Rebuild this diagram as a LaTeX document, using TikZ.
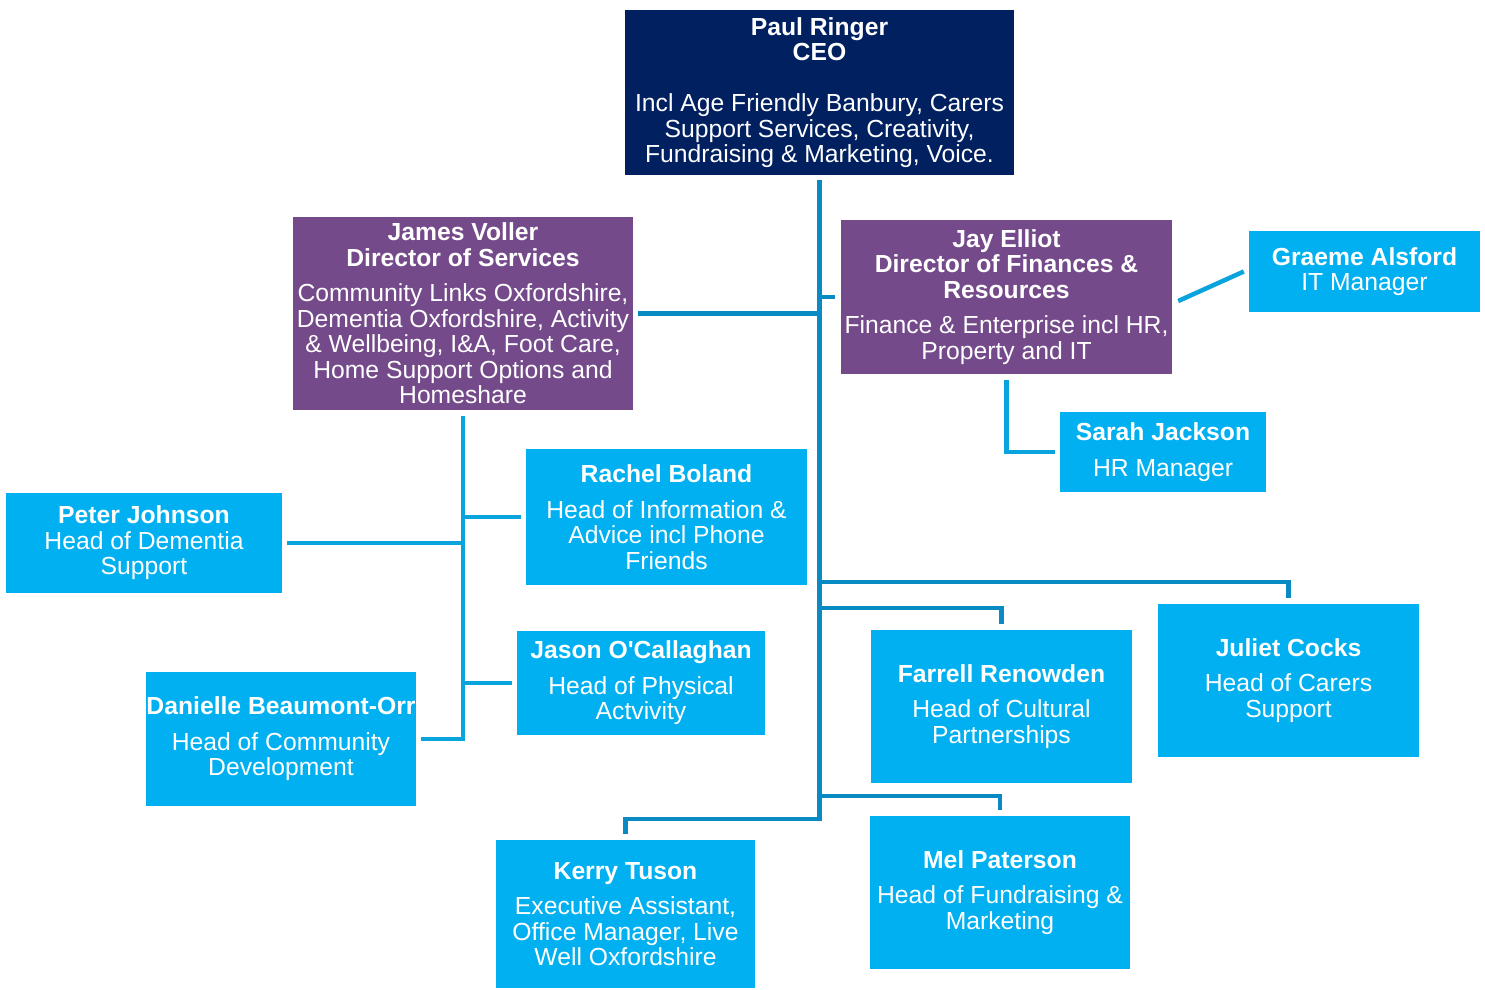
\documentclass[tikz,border=0pt]{standalone}
\usepackage{fontspec}
\setmainfont{Liberation Sans}
\definecolor{ceonavy}{HTML}{002060}
\definecolor{dirpurple}{HTML}{744A8A}
\definecolor{staffblue}{HTML}{00B0F0}
\definecolor{linkdark}{HTML}{0A8AC2}
\definecolor{linklight}{HTML}{09A3DE}
\begin{document}
\begin{tikzpicture}[x=1pt, y=-1pt,
  card/.style={rectangle, inner sep=0pt, text=white, align=center, font=\fontsize{24.7}{25.5}\selectfont},
  navybox/.style={card, fill=ceonavy},
  purplebox/.style={card, fill=dirpurple},
  bluebox/.style={card, fill=staffblue},
  link/.style={draw=linkdark, line width=4.5pt},
  sublink/.style={draw=linklight, line width=4.5pt}]
\useasboundingbox (0,0) rectangle (1485,989);
\node[navybox, minimum width=389, minimum height=165] (ceo) at (819.5, 92.5)
  {\textbf{Paul Ringer}\\\textbf{CEO}\\[25.5pt]Incl Age Friendly Banbury, Carers\\Support Services, Creativity,\\Fundraising \& Marketing, Voice.};
\node[purplebox, minimum width=340, minimum height=193] (voller) at (463, 313.5)
  {\textbf{James Voller}\\\textbf{Director of Services}\\[10pt]Community Links Oxfordshire,\\Dementia Oxfordshire, Activity\\\& Wellbeing, I\&A, Foot Care,\\Home Support Options and\\Homeshare};
\node[purplebox, minimum width=331, minimum height=154] (elliot) at (1006.5, 297)
  {\textbf{Jay Elliot}\\\textbf{Director of Finances \&}\\\textbf{Resources}\\[10pt]Finance \& Enterprise incl HR,\\Property and IT};
\node[bluebox, minimum width=231, minimum height=81] (alsford) at (1364.5, 271.5)
  {\textbf{Graeme Alsford}\\IT Manager};
\node[bluebox, minimum width=206, minimum height=80] (jackson) at (1163, 452)
  {\textbf{Sarah Jackson}\\[10pt]HR Manager};
\node[bluebox, minimum width=281, minimum height=136] (boland) at (666.5, 517)
  {\textbf{Rachel Boland}\\[10pt]Head of Information \&\\Advice incl Phone\\Friends};
\node[bluebox, minimum width=276, minimum height=100] (johnson) at (144, 543)
  {\textbf{Peter Johnson}\\Head of Dementia\\Support};
\node[bluebox, minimum width=248, minimum height=104] (ocallaghan) at (641, 683)
  {\textbf{Jason O\textquotesingle Callaghan}\\[10pt]Head of Physical\\Actvivity};
\node[bluebox, minimum width=270, minimum height=134] (beaumont) at (281, 739)
  {\textbf{Danielle Beaumont-Orr}\\[10pt]Head of Community\\Development};
\node[bluebox, minimum width=261, minimum height=153] (renowden) at (1001.5, 706.5)
  {\textbf{Farrell Renowden}\\[10pt]Head of Cultural\\Partnerships};
\node[bluebox, minimum width=261, minimum height=153] (cocks) at (1288.5, 680.5)
  {\textbf{Juliet Cocks}\\[10pt]Head of Carers\\Support};
\node[bluebox, minimum width=259, minimum height=148] (tuson) at (625.5, 914)
  {\textbf{Kerry Tuson}\\[10pt]Executive Assistant,\\Office Manager, Live\\Well Oxfordshire};
\node[bluebox, minimum width=260, minimum height=153] (paterson) at (1000, 892.5)
  {\textbf{Mel Paterson}\\[10pt]Head of Fundraising \&\\Marketing};
\draw[link] ([yshift=-5pt]ceo.south) |- ([yshift=21pt]tuson.north) -- ([yshift=6pt]tuson.north);
\draw[link] (ceo.south |- elliot.west) -- ([xshift=-6pt]elliot.west);
\draw[link] ([xshift=5pt]voller.east) -- (ceo.south |- voller.east);
\draw[link] ([yshift=6pt]cocks.north) -- ++(0,16pt) coordinate (cocksjoint) -- (ceo.south |- cocksjoint);
\draw[link] ([yshift=6pt]renowden.north) -- ++(0,16pt) coordinate (renjoint) -- (ceo.south |- renjoint);
\draw[link] ([yshift=6pt]paterson.north) -- ++(0,14pt) coordinate (patjoint) -- (ceo.south |- patjoint);
\draw[sublink] ([xshift=6pt, yshift=-4pt]elliot.east) -- ([xshift=-5pt]alsford.west);
\draw[sublink] ([yshift=-6pt]elliot.south) |- ([xshift=-5pt]jackson.west);
\draw[sublink] ([yshift=-6pt]voller.south) |- ([xshift=5pt]beaumont.east);
\draw[sublink] (voller.south |- boland.west) -- ([xshift=-5pt]boland.west);
\draw[sublink] ([xshift=5pt]johnson.east) -- (voller.south |- johnson.east);
\draw[sublink] (voller.south |- ocallaghan.west) -- ([xshift=-5pt]ocallaghan.west);
\end{tikzpicture}
\end{document}
